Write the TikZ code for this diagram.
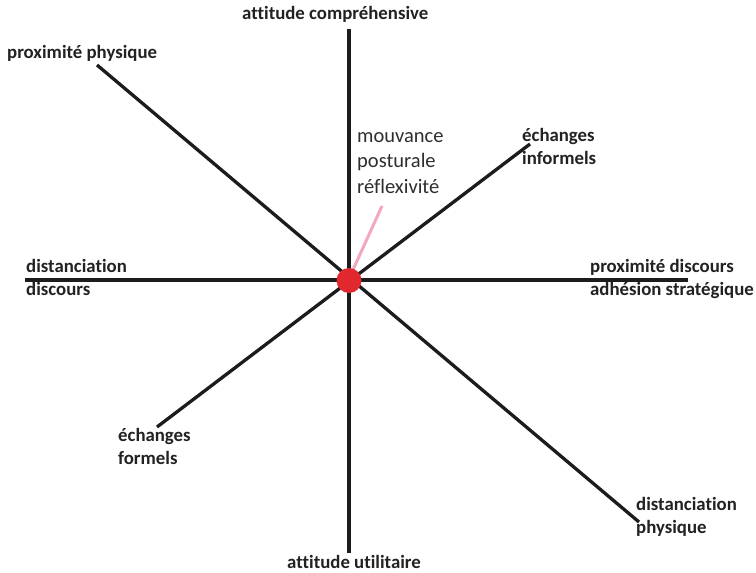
\documentclass[tikz,border=0pt]{standalone}
\usepackage{fontspec}
\setmainfont{Carlito}[Ligatures=NoCommon]
\definecolor{axiscol}{HTML}{1C1C1C}
\definecolor{txtcol}{HTML}{222222}
\definecolor{notecol}{HTML}{2E2E2E}
\definecolor{dotred}{HTML}{E0282E}
\definecolor{pinkcol}{HTML}{F3A8C0}
\begin{document}
\begin{tikzpicture}[x=1pt,y=-1pt,
  axis/.style={line width=3.3pt, draw=axiscol},
  pinkline/.style={line width=3pt, draw=pinkcol},
  lbl/.style={font=\fontsize{18.8}{22.7}\selectfont\bfseries, text=txtcol, inner sep=0pt, anchor=base west, align=left},
  note/.style={font=\fontsize{20.5}{25.5}\selectfont, text=notecol, inner sep=0pt, anchor=base west, align=left},
  dot/.style={circle, fill=dotred, minimum size=25pt, inner sep=0pt}]
\useasboundingbox (0,0) rectangle (756,573);
\fill[white] (0,0) rectangle (756,573);
% free ends of the axes
\coordinate (o) at (349,280.5);
\coordinate (top) at (349,29);
\coordinate (bot) at (349,553);
\coordinate (left) at (25,280);
\coordinate (right) at (688,280);
\coordinate (nw) at (97,65);
\coordinate (se) at (639,522);
\coordinate (ne) at (530,144);
\coordinate (sw) at (157,427);
\coordinate (pinkA) at (352,272);
\coordinate (pinkB) at (382,206);
% axes
\draw[axis] (top) -- (bot);
\draw[axis] (left) -- (right);
\draw[axis] (nw) -- (se);
\draw[axis] (ne) -- (sw);
\draw[pinkline] (pinkA) -- (pinkB);
% centre dot
\node[dot] (c) at (o) {};
% labels (anchor = baseline of the last line)
\node[lbl] (lt) at (242,19.5) {attitude compréhensive};
\node[lbl] (lnw) at (7,58) {proximité physique};
\node[lbl] (lw) at (26,295.5) {distanciation\\discours};
\node[lbl] (le) at (590,295.5) {proximité discours\\adhésion stratégique};
\node[lbl] (lne) at (522,164.5) {échanges\\informels};
\node[lbl] (lsw) at (118,464) {échanges\\formels};
\node[lbl] (lse) at (636,533) {distanciation\\physique};
\node[lbl] (lb) at (287,568) {attitude utilitaire};
\node[note] (n) at (357,193) {mouvance\\posturale\\réflexivité};
\end{tikzpicture}
\end{document}
